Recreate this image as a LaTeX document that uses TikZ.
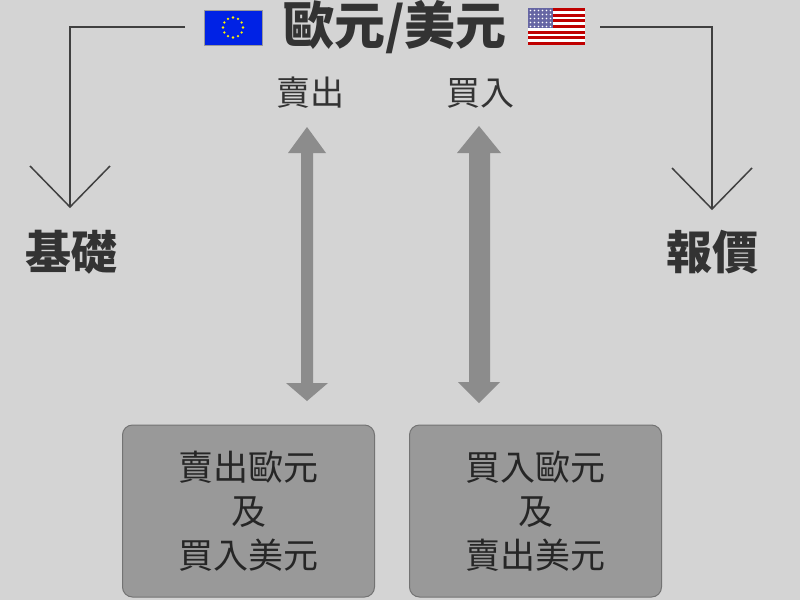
\documentclass[tikz,border=0pt]{standalone}
\usepackage{fontspec}
\usetikzlibrary{calc}
\newfontfamily\cjk{Noto Sans CJK TC}
\begin{document}
\begin{tikzpicture}[x=1pt,y=-1pt,
  lbl/.style={font=\cjk\fontsize{34}{36}\selectfont, text=black!80},
  big/.style={font=\cjk\bfseries\fontsize{46}{50}\selectfont, text=black!80},
  box/.style={draw=black!55, line width=1pt, fill=black!40, rounded corners=10pt, minimum width=252pt, minimum height=172pt, align=center, font=\cjk\fontsize{35}{44}\selectfont, text=black!85},
  thin/.style={draw=black!75, line width=1.5pt},
  fat/.style={fill=black!45, draw=none}]
\fill[black!17] (0,0) rectangle (800,600);
\useasboundingbox (0,0) rectangle (800,600);
% title
\node[font=\cjk\bfseries\fontsize{51}{54}\selectfont, text=black!80] (title) at (395,27) {歐元/美元};
% EU flag
\fill[blue!85!cyan!90!black] (204,10) rectangle (262,45);
\draw[black!40, line width=0.6pt] (204,10) rectangle (262,45);
\foreach \a in {0,30,...,330} \fill[yellow] ($(233,27.5)+(\a:10)$) circle (1.3);
% US flag
\foreach \i in {0,...,12} {
  \pgfmathsetmacro\yy{8+\i*37/13}
  \ifodd\i \fill[white] (528,\yy) rectangle (585,\yy+37/13); \else \fill[red!75!black] (528,\yy) rectangle (585,\yy+37/13); \fi
}
\fill[blue!40!black!60] (528,8) rectangle (553,28);
\foreach \r in {0,...,4} \foreach \c in {0,...,5} \fill[white] (530.5+\c*4,10.5+\r*4) circle (0.8);
% side labels and brackets
\coordinate (lt) at (185,27);
\coordinate (rt) at (600,27);
\node[big] (base) at (71,252) {基礎};
\node[big] (quote) at (712,252) {報價};
\coordinate (lp) at (70,207);
\coordinate (rp) at (712,209);
\draw[thin] (lt) -- (70,27) -- (lp);
\draw[thin] (30,166) -- (lp) -- (110,166);
\draw[thin] (rt) -- (712,27) -- (rp);
\draw[thin] (672,168) -- (rp) -- (752,168);
% sell / buy labels
\node[lbl] (sell) at (310,93) {賣出};
\node[lbl] (buy) at (480,93) {買入};
% thick double arrows
\coordinate (a1t) at (307,127); \coordinate (a1b) at (307,401);
\fill[fat] (a1t) -- (326,153) -- (313,153) -- (313,383) -- (328,383) -- (a1b) -- (286,383) -- (301,383) -- (301,153) -- (288,153) -- cycle;
\coordinate (a2t) at (479,126); \coordinate (a2b) at (479,403);
\fill[fat] (a2t) -- (501,153) -- (490,153) -- (490,382) -- (500,382) -- (a2b) -- (458,382) -- (469,382) -- (469,153) -- (457,153) -- cycle;
% boxes
\node[box] (bl) at (248.5,511) {賣出歐元\\及\\買入美元};
\node[box] (br) at (535.5,511) {買入歐元\\及\\賣出美元};
\end{tikzpicture}
\end{document}
